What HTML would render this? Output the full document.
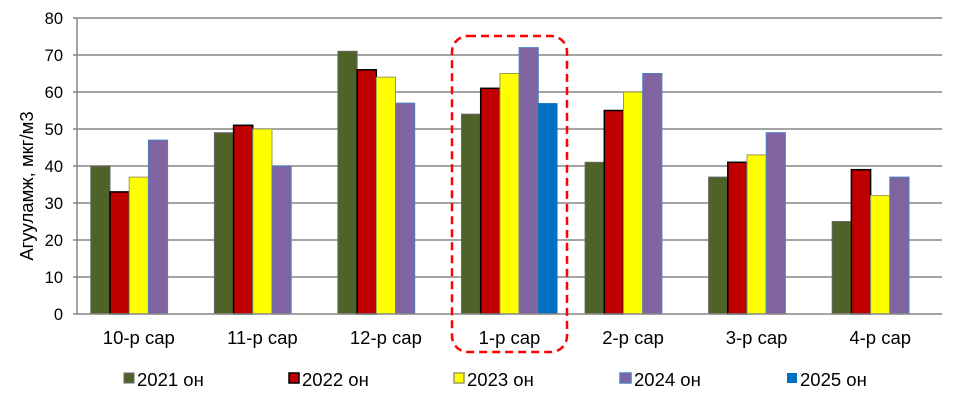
<!DOCTYPE html>
<html><head><meta charset="utf-8"><style>body{margin:0;background:#fff}svg{display:block}text{font-family:"Liberation Sans",Arial,sans-serif}</style></head><body>
<svg width="968" height="400" viewBox="0 0 968 400" xmlns="http://www.w3.org/2000/svg">
<rect width="968" height="400" fill="#fff"/>
<g stroke="#868686" stroke-width="1.5">
<line x1="73" y1="18" x2="942" y2="18"/><line x1="73" y1="55" x2="942" y2="55"/><line x1="73" y1="92" x2="942" y2="92"/><line x1="73" y1="129" x2="942" y2="129"/><line x1="73" y1="166" x2="942" y2="166"/><line x1="73" y1="203" x2="942" y2="203"/><line x1="73" y1="240" x2="942" y2="240"/><line x1="73" y1="277" x2="942" y2="277"/>
</g>
<g font-size="16.5" text-anchor="end" fill="#000">
<text x="63" y="24">80</text><text x="63" y="61">70</text><text x="63" y="98">60</text><text x="63" y="135">50</text><text x="63" y="172">40</text><text x="63" y="209">30</text><text x="63" y="246">20</text><text x="63" y="283">10</text><text x="63" y="320">0</text>
</g>
<text transform="translate(33,186) rotate(-90)" font-size="18.5" text-anchor="middle">Агууламж, мкг/м3</text>
<g stroke-width="1">
<g fill="#4f6228" stroke="#666">
<rect x="90.8" y="166" width="19.2" height="148"/><rect x="214.4" y="132.7" width="19.2" height="181.3"/><rect x="337.9" y="51.3" width="19.2" height="262.7"/><rect x="461.5" y="114.2" width="19.2" height="199.8"/><rect x="585.1" y="162.3" width="19.2" height="151.7"/><rect x="708.6" y="177.1" width="19.2" height="136.9"/><rect x="832.2" y="221.5" width="19.2" height="92.5"/>
</g>
<g fill="#c00000" stroke="#000" stroke-width="1.5">
<rect x="110" y="191.9" width="19.2" height="122.1"/><rect x="233.6" y="125.3" width="19.2" height="188.7"/><rect x="357.1" y="69.8" width="19.2" height="244.2"/><rect x="480.7" y="88.3" width="19.2" height="225.7"/><rect x="604.3" y="110.5" width="19.2" height="203.5"/><rect x="727.8" y="162.3" width="19.2" height="151.7"/><rect x="851.4" y="169.7" width="19.2" height="144.3"/>
</g>
<g fill="#ffff00" stroke="#9c9a5a">
<rect x="129.2" y="177.1" width="19.2" height="136.9"/><rect x="252.8" y="129" width="19.2" height="185"/><rect x="376.3" y="77.2" width="19.2" height="236.8"/><rect x="499.9" y="73.5" width="19.2" height="240.5"/><rect x="623.5" y="92" width="19.2" height="222"/><rect x="747" y="154.9" width="19.2" height="159.1"/><rect x="870.6" y="195.6" width="19.2" height="118.4"/>
</g>
<g fill="#8064a2" stroke="#4f81bd">
<rect x="148.4" y="140.1" width="19.2" height="173.9"/><rect x="272" y="166" width="19.2" height="148"/><rect x="395.5" y="103.1" width="19.2" height="210.9"/><rect x="519.1" y="47.6" width="19.2" height="266.4"/><rect x="642.7" y="73.5" width="19.2" height="240.5"/><rect x="766.2" y="132.7" width="19.2" height="181.3"/><rect x="889.8" y="177.1" width="19.2" height="136.9"/>
</g>
<rect x="538.3" y="103.1" width="19.2" height="210.9" fill="#0070c0"/>
</g>
<line x1="77" y1="18" x2="77" y2="314" stroke="#868686" stroke-width="1.5"/>
<line x1="73" y1="314" x2="942" y2="314" stroke="#868686" stroke-width="1.5"/>
<g font-size="18.5" text-anchor="middle">
<text x="138.8" y="344">10-р сар</text><text x="262.4" y="344">11-р сар</text><text x="385.9" y="344">12-р сар</text><text x="509.5" y="344">1-р сар</text><text x="633.1" y="344">2-р сар</text><text x="756.6" y="344">3-р сар</text><text x="880.2" y="344">4-р сар</text>
</g>
<rect x="452" y="36" width="115" height="316" rx="16" fill="none" stroke="#ff0000" stroke-width="2.5" stroke-dasharray="8,5"/>
<g font-size="18.5">
<rect x="124" y="373" width="10" height="10" fill="#4f6228" stroke="#666"/><text x="137" y="386">2021 он</text>
<rect x="289" y="373" width="10" height="10" fill="#c00000" stroke="#000" stroke-width="1.5"/><text x="302" y="386">2022 он</text>
<rect x="454" y="373" width="10" height="10" fill="#ffff00" stroke="#9c9a5a" stroke-width="1.5"/><text x="467" y="386">2023 он</text>
<rect x="620" y="373" width="11" height="10" fill="#8064a2" stroke="#4f81bd" stroke-width="1.5"/><text x="634" y="386">2024 он</text>
<rect x="787" y="373" width="10" height="10" fill="#0070c0"/><text x="800" y="386">2025 он</text>
</g>
</svg>
</body></html>
